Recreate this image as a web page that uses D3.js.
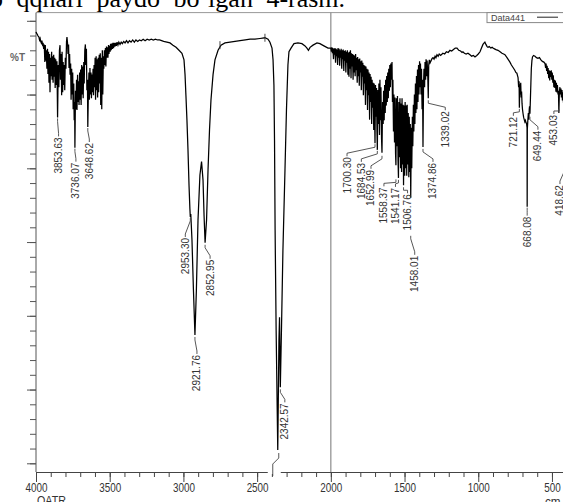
<!DOCTYPE html>
<html>
<head>
<meta charset="utf-8">
<script src="https://cdn.jsdelivr.net/npm/d3@7/dist/d3.min.js"></script>
<style>
  html, body { margin: 0; padding: 0; background: #fff; overflow: hidden; }
  svg { display: block; font-family: 'Liberation Sans', Arial, sans-serif; }
</style>
</head>
<body>
<div class="chart"></div>
<script>
// spectrum, [cm-1, %T]
const bandOH = [
  [4000, 98.5], [3996, 98.3], [3992, 98.2], [3988, 98.0], [3984, 97.9], [3980, 97.8], [3976, 97.4], [3972, 97.6],
  [3968, 97.2], [3964, 97.0], [3960, 97.3], [3956, 96.8], [3952, 97.0], [3948, 96.2], [3944, 96.8], [3940, 94.4],
  [3937, 96.7], [3933, 94.6], [3930, 96.0], [3926, 93.5], [3922, 96.2], [3919, 92.8], [3915, 95.8], [3912, 91.6],
  [3908, 95.5], [3905, 90.3], [3901, 95.0], [3898, 92.5], [3894, 95.8], [3891, 92.0], [3887, 95.2], [3884, 91.6],
  [3880, 95.4], [3877, 92.4], [3873, 95.0], [3870, 90.9], [3866, 94.8], [3862, 91.3], [3858, 94.5], [3853.6, 86.9],
  [3849, 94.0], [3845, 91.0], [3841, 96.0], [3837, 96.7], [3834, 92.0], [3830, 95.5], [3826, 89.9], [3823, 95.8],
  [3819, 90.3], [3816, 94.4], [3812, 91.3], [3809, 94.0], [3805, 90.6], [3801, 95.0], [3797, 93.5], [3793, 97.2],
  [3790, 97.8], [3786, 97.0], [3783, 95.5], [3779, 96.8], [3776, 93.6], [3772, 95.5], [3769, 92.7], [3765, 94.2],
  [3762, 89.3], [3758, 93.5], [3755, 90.0], [3751, 93.0], [3748, 88.0], [3744, 91.5], [3741, 86.5], [3738, 89.0],
  [3736.1, 82.8], [3732, 90.5], [3729, 88.0], [3725, 92.0], [3722, 87.9], [3718, 92.7], [3715, 89.0], [3711, 91.8],
  [3708, 88.6], [3704, 93.0], [3701, 89.3], [3697, 93.4], [3694, 88.6], [3690, 94.0], [3687, 90.0], [3683, 93.8],
  [3680, 89.5], [3676, 94.4], [3673, 91.5], [3669, 96.0], [3665, 96.8], [3662, 94.0], [3658, 96.2], [3655, 90.6],
  [3651, 92.0], [3648.6, 85.6], [3645, 90.0], [3641, 93.0], [3638, 89.3], [3634, 93.6], [3631, 90.0], [3627, 93.0],
  [3624, 89.5], [3620, 92.7], [3617, 90.3], [3613, 93.5], [3610, 89.9], [3606, 94.0], [3603, 91.0], [3599, 95.0],
  [3596, 89.3], [3592, 95.2], [3589, 90.6], [3585, 94.8], [3582, 89.6], [3578, 95.0], [3575, 90.3], [3571, 95.4],
  [3568, 91.5], [3564, 95.6], [3561, 88.6], [3557, 95.0], [3554, 88.0], [3550, 96.0], [3547, 90.0], [3543, 95.2],
  [3540, 93.5], [3536, 96.0], [3533, 94.0], [3529, 96.3], [3526, 93.8], [3522, 96.5], [3519, 95.0], [3515, 96.4],
  [3512, 95.0], [3508, 96.7], [3505, 95.5], [3501, 96.6], [3497, 95.8], [3494, 96.9], [3490, 96.0], [3486, 96.9],
  [3482, 96.2], [3478, 97.0], [3474, 96.3], [3470, 97.0], [3465, 96.5], [3460, 97.0], [3455, 96.6], [3450, 97.1],
  [3444, 96.7], [3438, 97.1], [3430, 96.8], [3422, 97.1], [3414, 96.9], [3405, 97.2], [3396, 97.0], [3386, 97.3],
  [3376, 97.0], [3366, 97.3], [3355, 97.1], [3344, 97.4], [3333, 97.1], [3322, 97.4], [3310, 97.2], [3298, 97.4],
  [3286, 97.3], [3273, 97.5], [3260, 97.3], [3246, 97.5], [3232, 97.4], [3218, 97.5], [3204, 97.4], [3190, 97.5],
  [3176, 97.4], [3162, 97.4], [3148, 97.3], [3134, 97.2], [3112, 97.1]
];

const bandCH = [
  [3091, 97.0], [3071, 96.7], [3050, 96.4], [3030, 96.0], [3010, 95.6], [2996, 94.7], [2989, 92.7], [2983, 89.9],
  [2976, 86.5], [2969, 82.5], [2962, 77.7], [2956, 74.5], [2953.3, 73.4], [2950, 73.8], [2947, 72.5], [2942, 70.3],
  [2932, 63.5], [2921.8, 57.4], [2912, 63.5], [2901, 73.0], [2888, 79.1], [2877, 80.9], [2867, 78.4], [2860, 73.6],
  [2853, 69.9], [2843, 73.0], [2833, 79.8], [2823, 85.2], [2813, 89.3], [2799, 92.7], [2786, 94.7], [2765, 96.0],
  [2745, 96.7], [2718, 97.0], [2684, 97.1], [2650, 97.2], [2616, 97.3], [2580, 97.4], [2548, 97.5], [2515, 97.5],
  [2481, 97.6], [2447, 97.7], [2426, 97.5], [2413, 97.1], [2399, 96.3], [2392, 94.7], [2386, 91.3], [2382, 83.8],
  [2378, 71.6], [2371, 58.0], [2360, 41.8], [2352, 56.7], [2348, 59.8], [2342.6, 50.3], [2335, 58.0], [2325, 68.9],
  [2311, 79.8], [2301, 87.9], [2291, 94.0], [2284, 95.8], [2270, 96.3], [2250, 96.9], [2223, 97.0], [2196, 96.9],
  [2175, 96.6], [2162, 96.3], [2152, 96.0], [2141, 96.4], [2121, 96.7], [2094, 97.0], [2074, 96.9], [2047, 96.6],
  [2019, 96.3]
];

const bandCO = [
  [2000, 96.3], [1996, 95.8], [1993, 96.4], [1989, 95.6], [1986, 96.3], [1982, 94.8], [1979, 96.2], [1975, 95.4],
  [1972, 96.3], [1968, 94.3], [1965, 96.2], [1961, 95.2], [1958, 96.1], [1954, 94.0], [1951, 96.3], [1947, 95.0],
  [1944, 96.2], [1940, 93.9], [1937, 96.0], [1933, 95.0], [1930, 96.2], [1926, 93.5], [1923, 96.0], [1919, 94.8],
  [1916, 96.1], [1912, 93.2], [1909, 95.9], [1905, 94.6], [1902, 96.0], [1898, 93.0], [1895, 95.8], [1891, 94.3],
  [1888, 96.0], [1884, 92.7], [1881, 95.7], [1877, 92.4], [1874, 95.8], [1870, 93.5], [1867, 96.0], [1863, 92.2],
  [1860, 95.6], [1856, 93.8], [1853, 95.5], [1849, 92.0], [1846, 95.4], [1842, 93.0], [1839, 95.3], [1835, 92.5],
  [1832, 95.5], [1828, 93.3], [1825, 95.0], [1821, 91.6], [1818, 95.1], [1814, 92.5], [1811, 94.8], [1807, 91.2],
  [1804, 94.9], [1800, 93.0], [1797, 94.5], [1793, 90.6], [1790, 94.6], [1786, 92.4], [1783, 94.3], [1779, 89.9],
  [1776, 94.0], [1772, 91.5], [1769, 93.9], [1765, 88.6], [1762, 93.8], [1758, 90.6], [1755, 93.5], [1751, 87.9],
  [1748, 93.4], [1744, 89.9], [1741, 93.0], [1737, 86.6], [1734, 92.8], [1730, 89.0], [1727, 92.4], [1723, 86.0],
  [1720, 92.0], [1716, 88.2], [1713, 91.6], [1709, 85.2], [1706, 91.5], [1703, 87.0], [1700.3, 83.4], [1697, 91.3],
  [1693, 87.0], [1690, 90.9], [1687, 85.0], [1684.5, 82.5], [1681, 90.6], [1677, 86.0], [1674, 91.5], [1670, 84.5],
  [1667, 92.0], [1663, 86.5], [1660, 91.0], [1656, 84.0], [1653, 82.1], [1649, 89.0], [1645, 86.0], [1642, 90.5],
  [1638, 86.5], [1635, 91.3], [1631, 87.5], [1628, 92.0], [1624, 88.5], [1621, 92.5], [1617, 89.0], [1614, 93.0],
  [1610, 89.5], [1607, 93.5], [1603, 90.5], [1600, 94.0], [1596, 91.0], [1593, 94.2], [1589, 92.0], [1585, 94.4],
  [1582, 89.0], [1579, 92.0], [1575, 85.0], [1572, 90.0], [1568, 83.5], [1565, 89.6], [1561, 82.0], [1558.4, 80.4],
  [1555, 89.5], [1551, 83.0], [1548, 89.8], [1544, 81.0], [1541.2, 78.7], [1538, 89.0], [1534, 81.5], [1531, 89.5],
  [1527, 80.0], [1524, 88.8], [1520, 79.5], [1517, 89.5], [1513, 80.5], [1510, 88.6], [1506.8, 77.7], [1503, 88.5],
  [1499, 79.0], [1496, 89.0], [1492, 80.0], [1489, 88.5], [1485, 79.0], [1482, 88.6], [1478, 80.5], [1475, 87.5],
  [1471, 78.8], [1468, 87.0], [1464, 79.5], [1461, 86.0], [1458, 76.0], [1454, 85.5], [1451, 80.0], [1447, 87.0],
  [1444, 83.0], [1440, 88.6], [1437, 85.0], [1433, 90.0], [1430, 86.0], [1426, 91.5], [1423, 87.5], [1419, 92.5],
  [1416, 88.0], [1412, 93.4], [1409, 89.0], [1405, 94.0], [1402, 90.0], [1398, 94.5], [1395, 91.0], [1392, 94.2],
  [1388, 90.0], [1385, 93.5], [1381, 88.0], [1378, 92.0], [1374.9, 82.9], [1371, 91.5], [1368, 93.5], [1364, 91.0],
  [1361, 94.4], [1357, 92.0], [1354, 94.8], [1350, 92.5], [1347, 94.6], [1343, 93.0], [1339, 89.5], [1336, 94.0],
  [1332, 94.7]
];

const bandFinger = [
  [1327, 94.3], [1320, 94.6], [1313, 94.9], [1307, 95.0], [1300, 94.8], [1293, 95.2], [1287, 95.0], [1280, 95.4],
  [1272, 95.2], [1265, 95.5], [1255, 95.3], [1240, 95.6], [1228, 95.5], [1216, 95.8], [1204, 95.7], [1192, 96.0],
  [1180, 95.9], [1168, 96.1], [1156, 96.3], [1144, 96.3], [1132, 96.0], [1120, 95.9], [1110, 95.7], [1104, 95.8],
  [1094, 95.6], [1082, 95.5], [1070, 95.6], [1056, 95.4], [1045, 95.2], [1033, 95.3], [1022, 95.1], [1010, 95.3],
  [1000, 95.5], [988, 95.8], [978, 96.3], [968, 96.8], [960, 97.0], [955, 97.1], [948, 96.8], [940, 96.5],
  [934, 96.4], [925, 96.5], [915, 96.3], [906, 96.4], [900, 96.3], [890, 96.2], [880, 96.1], [866, 96.0],
  [852, 95.8], [839, 95.6], [828, 95.5], [819, 95.4], [805, 95.0], [795, 94.7], [785, 94.4], [775, 94.0],
  [765, 93.7], [752, 93.3], [745, 93.0], [738, 92.9], [734, 92.6]
];

const bandLow = [
  [730, 92.3], [726, 91.0], [723, 91.8], [721.1, 88.2], [718, 91.4], [715, 90.0], [712, 91.6], [709, 89.6],
  [706, 90.4], [703, 88.8], [700, 88.0], [696, 87.4], [692, 86.9], [688, 86.6], [684, 86.3], [680, 86.5],
  [676, 86.2], [672, 86.0], [669, 85.5], [668.1, 74.8], [667, 85.3], [664, 86.4], [660, 87.5], [657, 86.6],
  [654, 88.0], [652, 88.4], [649.4, 87.4], [646, 89.5], [643, 91.5], [640, 93.5], [636, 94.6], [632, 95.1],
  [625, 95.3], [615, 95.2], [605, 95.0], [595, 94.9], [585, 95.0], [575, 94.7], [565, 94.5], [555, 94.4],
  [547, 94.2], [543, 93.6], [540, 94.2], [536, 93.2], [533, 93.9], [529, 92.8], [526, 93.6], [522, 92.2],
  [519, 93.3], [515, 91.9], [512, 93.2], [508, 92.4], [505, 93.3], [501, 92.0], [498, 93.0], [494, 91.6],
  [491, 92.6], [487, 91.0], [484, 92.0], [480, 90.9], [477, 91.9], [473, 90.4], [470, 91.6], [466, 90.3],
  [463, 91.3], [459, 90.0], [456, 90.5], [453, 87.5], [450, 90.2], [446, 91.0], [443, 90.0], [439, 90.8],
  [436, 89.6], [432, 90.6], [429, 89.2], [425, 90.3], [422, 89.0], [418.6, 88.3], [415, 89.4], [411, 89.8],
  [406, 89.3], [400, 89.8]
];

// picked peaks
const peakCm = [3853.63, 3736.07, 3648.62, 2953.30, 2921.76, 2852.95, 2342.57, 1700.30, 1684.53, 1652.99,
  1558.37, 1541.17, 1506.76, 1458.01, 1374.86, 1339.02, 721.12, 668.08, 649.44, 453.03, 418.62];
const peakText = ['3853.63', '3736.07', '3648.62', '2953.30', '2921.76', '2852.95', '2342.57', '1700.30', '1684.53',
  '1652.99', '1558.37', '1541.17', '1506.76', '1458.01', '1374.86', '1339.02', '721.12', '668.08', '649.44',
  '453.03', '418.62'];
// small threshold marks sitting on the trace
const markCm = [2752, 2447];

const xMajor = d3.range(500, 4001, 500);
const xMinor = d3.range(500, 4001, 100);
const yMajor = d3.range(40, 101, 10);
const yMinor = d3.range(40, 101, 2);

// layout
const width = 563, height = 502;
const plotLeft = 36, plotTop = 12.6, plotBottom = 472;
// label offsets from the peak: [dx, dy, leader gap]
const labelShift = [[1, 20, 1], [1, 15, 1], [1.5, 16, 1], [-5, 21, 1], [2, 20, 2], [5, 17, 2], [4.5, 16, 2],
  [-28, 14, 1], [-16, 13, 1], [-11, 17, 3], [-12, 22, 14], [-3, 10, 2], [4, 9, 2], [4, 58, 38], [10, 16, 2],
  [17, 13, 2], [-6, 9, 1], [0, 10, 1], [8, 17, 3], [-5, 2, -4], [-4, 78, 62]];

const spectrum = [].concat(bandOH, bandCH, bandCO, bandFinger, bandLow);

const svg = d3.select('.chart').append('svg').attr('width', width).attr('height', height);

const x = d3.scaleLinear().domain([4000, 400]).range([plotLeft, 566.7]);
const y = d3.scaleLinear().domain([40, 100]).range([463.3, 20.8]);

// caption of the page above the figure, cut by the crop
svg.append('text')
  .attr('x', -10).attr('y', 6.5)
  .style('font-family', "'Liberation Serif', 'Times New Roman', serif")
  .style('font-size', '26px').style('word-spacing', '7px')
  .attr('fill', '#000')
  .text('o qqhari paydo bo‘lgan 4-rasm.');

// frame
svg.append('line').attr('x1', plotLeft).attr('x2', width).attr('y1', plotTop).attr('y2', plotTop)
  .attr('stroke', '#999').attr('stroke-width', 1);
svg.append('line').attr('x1', x(2000)).attr('x2', x(2000)).attr('y1', plotTop).attr('y2', plotBottom)
  .attr('stroke', '#8c8c8c').attr('stroke-width', 1.2);

// y axis, no labels
const yMinG = svg.append('g').attr('transform', `translate(${plotLeft},0)`)
  .call(d3.axisLeft(y).tickValues(yMinor).tickSize(6).tickFormat(''));
const yMajG = svg.append('g').attr('transform', `translate(${plotLeft},0)`)
  .call(d3.axisLeft(y).tickValues(yMajor).tickSize(9).tickFormat(''));
[yMinG, yMajG].forEach(g => {
  g.select('.domain').remove();
  g.selectAll('line').attr('stroke', '#555');
});
svg.append('line').attr('x1', plotLeft).attr('x2', plotLeft).attr('y1', plotTop).attr('y2', plotBottom)
  .attr('stroke', '#555');

svg.append('text').attr('x', 10).attr('y', 61)
  .style('font-size', '10px').style('font-weight', 'bold').attr('fill', '#666').text('%T');

// x axis
const xMinG = svg.append('g').attr('transform', `translate(0,${plotBottom})`)
  .call(d3.axisBottom(x).tickValues(xMinor).tickSize(5).tickSizeOuter(0).tickFormat(''));
const xMajG = svg.append('g').attr('transform', `translate(0,${plotBottom})`)
  .call(d3.axisBottom(x).tickValues(xMajor).tickSize(10).tickSizeOuter(0).tickPadding(1)
    .tickFormat(d3.format('d')));
xMajG.select('.domain').remove();
xMinG.select('.domain').attr('stroke', '#444');
[xMinG, xMajG].forEach(g => g.selectAll('line').attr('stroke', '#444'));
xMajG.selectAll('text')
  .style('font-size', '13px').style('font-family', "'Liberation Sans', Arial, sans-serif")
  .attr('fill', '#333')
  .attr('textLength', d => (d >= 1000 ? 22 : 16.5))
  .attr('lengthAdjust', 'spacingAndGlyphs');

svg.append('text').attr('x', 37).attr('y', 505).style('font-size', '13px').attr('fill', '#333')
  .attr('textLength', 29).attr('lengthAdjust', 'spacingAndGlyphs').text('QATR');
svg.append('text').attr('x', 545).attr('y', 506).style('font-size', '13px').attr('fill', '#333')
  .attr('textLength', 26).attr('lengthAdjust', 'spacingAndGlyphs').text('cm-1');

// legend
svg.append('rect').attr('x', 487).attr('y', plotTop).attr('width', 90).attr('height', 10)
  .attr('fill', '#fff').attr('stroke', '#888');
svg.append('text').attr('x', 491).attr('y', 20.8).style('font-size', '9px').attr('fill', '#444').text('Data441');
svg.append('line').attr('x1', 537).attr('x2', 558).attr('y1', 17.2).attr('y2', 17.2)
  .attr('stroke', '#222').attr('stroke-width', 1);

// trace
const line = d3.line().x(d => x(d[0])).y(d => y(d[1]));
svg.append('path').datum(spectrum)
  .attr('fill', 'none').attr('stroke', '#000').attr('stroke-width', 1.25)
  .attr('stroke-linejoin', 'miter').attr('d', line);

const tAt = cm => d3.least(spectrum, d => Math.abs(d[0] - cm))[1];

svg.selectAll('.mark').data(markCm).enter().append('line')
  .attr('class', 'mark')
  .attr('x1', d => x(d)).attr('x2', d => x(d))
  .attr('y1', d => y(tAt(d)) - 4).attr('y2', d => y(tAt(d)) + 4)
  .attr('stroke', '#333').attr('stroke-width', 0.9);

// peak labels
const labels = svg.selectAll('.peak').data(peakCm).enter().append('g').attr('class', 'peak');
labels.append('path')
  .attr('fill', 'none').attr('stroke', '#444').attr('stroke-width', 0.9)
  .attr('d', (d, i) => {
    const px = x(d), py = y(tAt(d));
    const [dx, dy, gap] = labelShift[i];
    const lx = px + dx, ly = py + dy;
    const sy = py + gap;
    return `M${px},${sy} L${px},${Math.min(sy + 3, ly - 4)} L${lx},${ly - 4} L${lx},${ly - 1}`;
  });
labels.append('text')
  .attr('transform', (d, i) => `translate(${x(d) + labelShift[i][0]},${y(tAt(d)) + labelShift[i][1]}) rotate(-90)`)
  .attr('text-anchor', 'end').attr('dy', '0.35em')
  .style('font-size', '10px').attr('fill', '#333')
  .text((d, i) => peakText[i]);

// leader of a label that is hidden under the axis
const hx = x(2360), hy = y(tAt(2360));
svg.append('rect').attr('x', hx - 10).attr('y', plotBottom - 2).attr('width', 13).attr('height', 4).attr('fill', '#fff');
svg.append('path').attr('fill', 'none').attr('stroke', '#444').attr('stroke-width', 0.9)
  .attr('d', `M${hx + 1},${hy + 3} L${hx + 1},${hy + 8} L${hx - 5},${hy + 14} L${hx - 5},${plotBottom + 4}`);
</script>
</body>
</html>
